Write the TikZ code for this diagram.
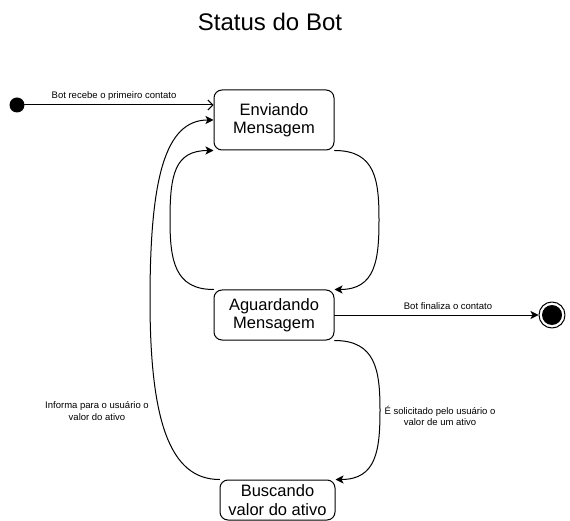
\documentclass[tikz,border=0pt]{standalone}
\usepackage{fontspec}
\setmainfont{Liberation Sans}
\usetikzlibrary{arrows.meta}

\begin{document}
\begin{tikzpicture}[x=1pt, y=-1pt, line join = round, line cap = round,
    state/.style={draw, line width=1pt, rounded corners=8pt, align=center,
        font=\fontsize{16.5}{18.5}\selectfont},
    lbl/.style={align=center, font=\fontsize{9.5}{11.5}\selectfont},
    flow/.style={line width=1pt, -{Stealth[length=8pt,width=8pt,inset=2pt]}}]
\useasboundingbox (0,0) rectangle (570,521);

\node (title) at (270,22) {\fontsize{24}{27}\selectfont Status do Bot};

\node[state, minimum width=120, minimum height=60] (env) at (274,120) {Enviando\\Mensagem};
\node[state, minimum width=120, minimum height=50] (agu) at (274,315) {Aguardando\\Mensagem};
\node[state, minimum width=115, minimum height=40] (bus) at (277.5,500) {Buscando\\valor do ativo};

\node[circle, fill, inner sep=0, minimum size=15] (start) at (17,105) {};
\node[circle, draw, line width=1pt, inner sep=0, minimum size=26] (stop) at (552,315) {};
\fill (stop.center) circle (10);

\coordinate [] (rA) at (379,220);
\coordinate [] (lA) at (170,220);
\coordinate [] (rB) at (380,410);
\coordinate [] (lB) at (150,300);

\draw[line width=1pt, -{Straight Barb[length=5pt,width=10pt]}] (start.east) -- (env.west |- start);
\draw[flow] (agu.east) -- (stop.west);
\draw[flow] (env.south east) .. controls +(41,0) and +(0,-40) .. (rA) .. controls +(0,40) and +(41,0) .. (agu.north east);
\draw[flow] (agu.north west) .. controls +(-39,0) and +(0,40) .. (lA) .. controls +(0,-45) and +(-39,0) .. (env.south west);
\draw[flow] (agu.south east) .. controls +(41,0) and +(0,-40) .. (rB) .. controls +(0,40) and +(41,0) .. (bus.north east);
\draw[flow] (bus.north west) .. controls +(-50,0) and +(0,120) .. (lB) .. controls +(0,-120) and +(-49,0) .. (env.west);

\node[lbl] (l1) at (114,96) {Bot recebe o primeiro contato};
\node[lbl] (l2) at (448,306) {Bot finaliza o contato};
\node[lbl] (l3) at (97,411) {Informa para o usuário o\\valor do ativo};
\node[lbl] (l4) at (440,416) {É solicitado pelo usuário o\\valor de um ativo};
\end{tikzpicture}
\end{document}
